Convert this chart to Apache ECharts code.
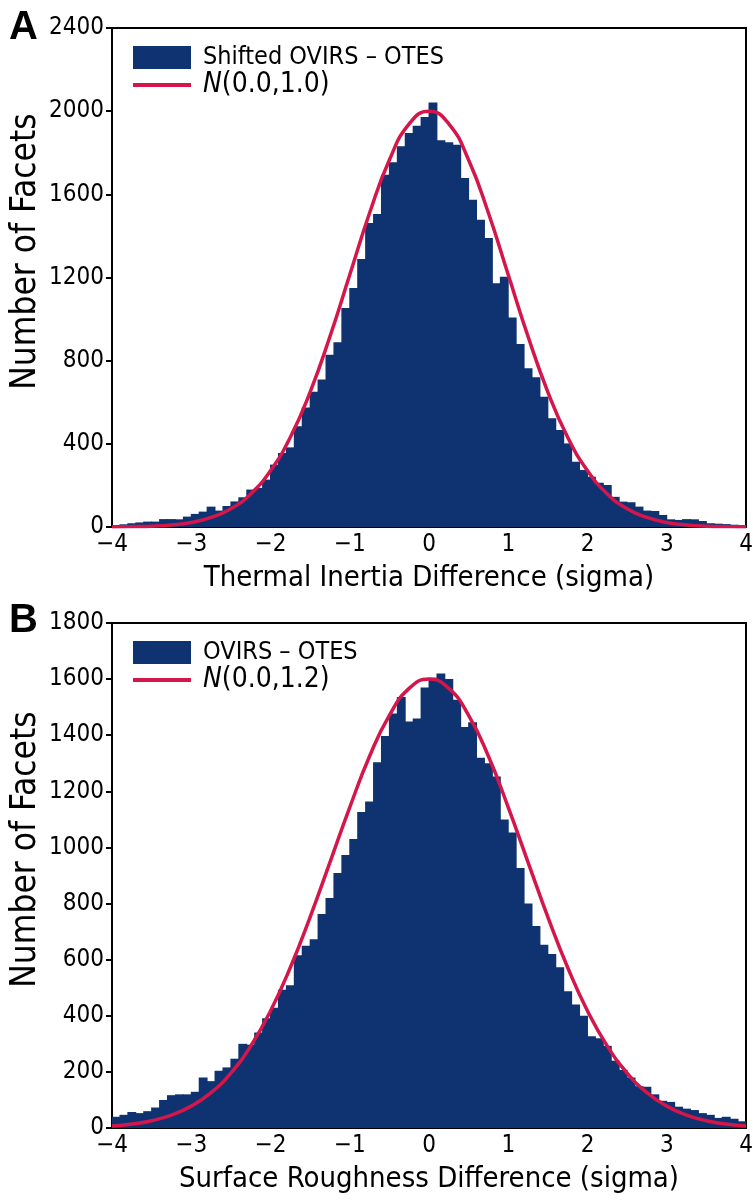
<!DOCTYPE html>
<html>
<head>
<meta charset="utf-8">
<script src="https://cdn.jsdelivr.net/npm/echarts@6/dist/echarts.min.js"></script>
<style>
  html, body { margin: 0; padding: 0; background: #fff; }
  #chart { width: 753px; height: 1202px; }
</style>
</head>
<body>
<div id="chart"></div>
<script>
// histogram bins: 80 bins of width 0.1 from -4 to 4
const binStart = -4;
const binWidth = 0.1;

// panel A counts (Shifted OVIRS - OTES), thermal inertia
const countsA = [
  8, 13, 18, 22, 26, 26, 38, 38, 37, 50,
  63, 74, 98, 79, 101, 123, 143, 180, 188, 228,
  300, 356, 383, 484, 575, 650, 710, 829, 888, 1053,
  1149, 1289, 1462, 1505, 1694, 1754, 1831, 1895, 1930, 1972,
  2042, 1860, 1850, 1839, 1678, 1574, 1478, 1390, 1172, 1204,
  1008, 880, 763, 720, 627, 523, 466, 402, 314, 274,
  242, 213, 202, 145, 122, 119, 98, 79, 77, 58,
  37, 34, 38, 37, 29, 18, 16, 14, 11, 6
];

// panel B counts (OVIRS - OTES), surface roughness
const countsB = [
  40, 47, 57, 53, 60, 73, 100, 117, 120, 120,
  129, 180, 167, 204, 216, 247, 300, 297, 340, 391,
  429, 493, 509, 616, 650, 673, 763, 820, 909, 973,
  1030, 1126, 1164, 1304, 1397, 1477, 1536, 1449, 1460, 1570,
  1605, 1620, 1600, 1526, 1429, 1446, 1320, 1300, 1253, 1100,
  1053, 927, 800, 720, 653, 620, 573, 487, 440, 400,
  327, 320, 293, 240, 207, 180, 149, 147, 120, 97,
  93, 76, 69, 64, 53, 47, 36, 40, 33, 24
];

// fitted normal curves
const curveX = [-4, -3.75, -3.5, -3.25, -3, -2.75, -2.5, -2.25, -2, -1.75, -1.5, -1.25, -1, -0.75, -0.5, -0.25,
  0, 0.25, 0.5, 0.75, 1, 1.25, 1.5, 1.75, 2, 2.25, 2.5, 2.75, 3, 3.25, 3.5, 3.75, 4];
const curveA = [1, 2, 4, 10, 22, 46, 88, 159, 271, 432, 649, 916, 1213, 1510, 1765, 1939,
  2000, 1939, 1765, 1510, 1213, 916, 649, 432, 271, 159, 88, 46, 22, 10, 4, 2, 1];
const curveB = [7, 14, 26, 46, 78, 126, 196, 292, 417, 572, 752, 947, 1143, 1325, 1471, 1567,
  1600, 1567, 1471, 1325, 1143, 947, 752, 572, 417, 292, 196, 126, 78, 46, 26, 14, 7];

const namesA = ['Shifted OVIRS \u2013 OTES', 'N(0.0,1.0)'];
const namesB = ['OVIRS \u2013 OTES', 'N(0.0,1.2)'];
const xTitles = ['Thermal Inertia Difference (sigma)', 'Surface Roughness Difference (sigma)'];
const yMax = [2400, 1800];
const yStep = [400, 200];

const barColor = '#0e3370';
const curveColor = '#d4164b';
const font = '"DejaVu Sans Condensed", "Liberation Sans Narrow", sans-serif';

const binLabels = countsA.map((_, i) => (binStart + binWidth * (i + 0.5)).toFixed(2));

const grids = [
  { left: 112, top: 28, width: 634, height: 499 },
  { left: 112, top: 623, width: 634, height: 505 }
];

const fmtX = v => (v < 0 ? '\u2212' + Math.abs(v) : String(v));
// thin bar used as the legend mark of the fitted curve
const lineIcon = 'path://M0,0 L58,0 L58,4 L0,4 Z';

const xAxes = [];
const yAxes = [];
const series = [];
const legends = [];

[[countsA, curveA, namesA], [countsB, curveB, namesB]].forEach(([counts, curve, names], g) => {
  // hidden category axis that carries the bins
  xAxes.push({
    type: 'category', gridIndex: g, data: binLabels, show: false, boundaryGap: true, position: 'top'
  });
  // visible value axis
  xAxes.push({
    type: 'value', gridIndex: g, min: -4, max: 4, interval: 1, position: 'bottom',
    axisLine: { show: true, onZero: false, lineStyle: { color: '#000', width: 2 } },
    axisTick: { show: false },
    splitLine: { show: false },
    axisLabel: { color: '#000', fontSize: 24, fontFamily: font, margin: 6, formatter: fmtX },
    name: xTitles[g], nameLocation: 'middle', nameGap: 37, nameMoveOverlap: false,
    nameTextStyle: { color: '#000', fontSize: 29, fontFamily: font }
  });
  yAxes.push({
    type: 'value', gridIndex: g, min: 0, max: yMax[g], interval: yStep[g], position: 'left',
    axisLine: { show: true, onZero: false, lineStyle: { color: '#000', width: 2 } },
    axisTick: { show: true, length: 6, lineStyle: { color: '#000', width: 2 } },
    splitLine: { show: false },
    axisLabel: { color: '#000', fontSize: 24, fontFamily: font, margin: 8, formatter: v => String(v) },
    name: 'Number of Facets', nameLocation: 'middle', nameGap: 69, nameMoveOverlap: false,
    nameTextStyle: { color: '#000', fontSize: 35, fontFamily: font, padding: [0, 0, 0, 52] }
  });
  series.push({
    name: names[0], type: 'bar', xAxisIndex: g * 2, yAxisIndex: g,
    data: counts, barWidth: '112%', barGap: '-100%',
    itemStyle: { color: barColor },
    silent: true
  });
  series.push({
    name: names[1], type: 'line', xAxisIndex: g * 2 + 1, yAxisIndex: g,
    data: curveX.map((x, i) => [x, curve[i]]),
    smooth: 0.5, symbol: 'none', z: 5,
    lineStyle: { color: curveColor, width: 3.5 },
    itemStyle: { color: curveColor }
  });
  legends.push({
    data: [{ name: names[0], icon: 'rect' }, { name: names[1], icon: lineIcon }],
    orient: 'vertical', left: 133, top: grids[g].top + 17, padding: 0,
    itemWidth: 58, itemHeight: 23, itemGap: 1,
    selectedMode: false,
    formatter: n => (n.charAt(0) === 'N' ? '{i|N}{n|' + n.slice(1) + '}' : n),
    textStyle: {
      color: '#000', fontSize: 25, fontFamily: font, padding: [0, 0, 0, 7],
      rich: {
        i: { fontSize: 28, fontStyle: 'italic', fontFamily: font, color: '#000' },
        n: { fontSize: 28, fontFamily: font, color: '#000' }
      }
    }
  });
});

const chart = echarts.init(document.getElementById('chart'));
chart.setOption({
  animation: false,
  backgroundColor: '#fff',
  grid: grids.map(gr => Object.assign({
    show: true, borderColor: '#000', borderWidth: 2, backgroundColor: 'transparent',
    containLabel: false, outerBoundsMode: 'none'
  }, gr)),
  xAxis: xAxes,
  yAxis: yAxes,
  legend: legends,
  series: series,
  graphic: [
    { type: 'text', left: 9, top: 8, style: { text: 'A', fontSize: 40, fontWeight: 'bold', fontFamily: 'Liberation Sans, Arial, sans-serif', fill: '#000' } },
    { type: 'text', left: 9, top: 601, style: { text: 'B', fontSize: 40, fontWeight: 'bold', fontFamily: 'Liberation Sans, Arial, sans-serif', fill: '#000' } }
  ]
});
</script>
</body>
</html>
